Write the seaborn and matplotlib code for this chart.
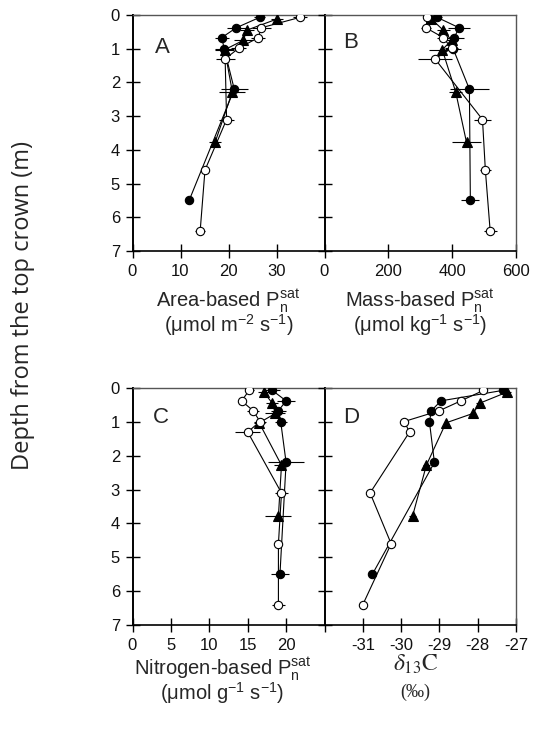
import matplotlib
matplotlib.use("Agg")
import matplotlib.pyplot as plt
import seaborn as sns

sns.set_style("ticks")
plt.rcParams['font.family'] = ['Liberation Sans', 'DejaVu Sans']
plt.rcParams['mathtext.fontset'] = 'custom'
plt.rcParams['mathtext.rm'] = 'Liberation Sans'
plt.rcParams['mathtext.it'] = 'Liberation Sans:italic'
plt.rcParams['mathtext.bf'] = 'Liberation Sans:bold'

# ---- depths (m) of each series ----
depth_filled = [0.07, 0.38, 0.67, 1.0, 2.2, 5.5]
depth_open = [0.07, 0.38, 0.67, 0.99, 1.3, 3.1, 4.6, 6.4]
depth_tri = [0.12, 0.45, 0.75, 1.03, 2.28, 3.78]

# ---- Panel A: area-based Pn sat ----
A_filled = [26.5, 21.6, 18.6, 19.1, 21.2, 11.8]
A_filled_err = [1.2, 2.0, 1.4, 2.0, 2.8, 0.8]
A_open = [34.9, 26.8, 26.2, 22.1, 19.3, 19.6, 15.1, 14.1]
A_open_err = [1.4, 2.0, 1.5, 1.5, 2.0, 1.5, 0.9, 1.0]
A_tri = [30.1, 23.8, 23.1, 19.2, 20.8, 17.2]
A_tri_err = [1.2, 1.5, 2.0, 2.0, 2.7, 1.2]

# ---- Panel B: mass-based Pn sat ----
B_filled = [353, 422, 406, 403, 454, 457]
B_filled_err = [15, 34, 30, 25, 62, 28]
B_open = [322, 318, 372, 398, 346, 495, 504, 519]
B_open_err = [10, 15, 20, 20, 52, 26, 18, 20]
B_tri = [335, 372, 398, 369, 411, 445]
B_tri_err = [15, 20, 20, 43, 20, 46]

# ---- Panel C: nitrogen-based Pn sat ----
C_filled = [18.2, 20.0, 19.0, 19.3, 20.0, 19.2]
C_filled_err = [1.0, 1.2, 1.0, 0.8, 2.3, 1.2]
C_open = [15.2, 14.2, 15.7, 16.6, 15.0, 19.4, 19.0, 19.0]
C_open_err = [0.6, 0.5, 0.8, 0.8, 1.6, 0.8, 0.4, 0.8]
C_tri = [17.1, 18.2, 18.6, 16.5, 19.4, 19.0]
C_tri_err = [0.8, 0.8, 1.3, 0.7, 1.0, 1.7]

# ---- Panel D: delta 13C ----
D_filled = [-27.34, -28.96, -29.21, -29.26, -29.13, -30.75]
D_filled_err = [0.10, 0.05, 0.05, 0.05, 0.10, 0.05]
D_open = [-27.85, -28.44, -29.0, -29.92, -29.78, -30.81, -30.26, -31.0]
D_open_err = [0.10, 0.05, 0.05, 0.05, 0.05, 0.05, 0.10, 0.10]
D_tri = [-27.23, -27.95, -28.12, -28.83, -29.34, -29.70]
D_tri_err = [0.10, 0.10, 0.05, 0.05, 0.10, 0.10]

# ---- tick labels ----
A_ticks = [0, 10, 20, 30]
B_ticks = [0, 200, 400, 600]
C_ticks = [0, 5, 10, 15, 20, 25]
C_ticklabels = ['0', '5', '10', '15', '20', '']
D_ticks = [-31, -30, -29, -28, -27]
D_ticklabels = ['-31', '-30', '-29', '-28', '-27']
depth_ticks = [0, 1, 2, 3, 4, 5, 6, 7]

fig = plt.figure(figsize=(5.37, 7.3), dpi=100)
W, H = 537.0, 730.0
left1, right1, right2 = 132.5, 324.5, 516.0
top_r1, bot_r1 = 15.0, 251.0
top_r2, bot_r2 = 388.0, 625.0

def add_ax(x0, x1, y0, y1):
    return fig.add_axes([x0 / W, 1 - y1 / H, (x1 - x0) / W, (y1 - y0) / H])

axA = add_ax(left1, right1, top_r1, bot_r1)
axB = add_ax(right1, right2, top_r1, bot_r1)
axC = add_ax(left1, right1, top_r2, bot_r2)
axD = add_ax(right1, right2, top_r2, bot_r2)

lw = 0.8
ms_c = 6.0
ms_t = 7.0

def draw(ax, fv, fe, ov, oe, tv, te):
    for vals, errs, d, mk, fc, ms in [
        (fv, fe, depth_filled, 'o', 'black', ms_c),
        (tv, te, depth_tri, '^', 'black', ms_t),
        (ov, oe, depth_open, 'o', 'white', ms_c),
    ]:
        ax.errorbar(vals, d, xerr=errs, fmt='none', ecolor='black',
                    elinewidth=lw, capsize=0, zorder=2)
        sns.lineplot(x=vals, y=d, ax=ax, sort=False, estimator=None,
                     color='black', lw=lw, marker=mk, markersize=ms,
                     markerfacecolor=fc, markeredgecolor='black',
                     markeredgewidth=0.8, zorder=3)

draw(axA, A_filled, A_filled_err, A_open, A_open_err, A_tri, A_tri_err)
draw(axB, B_filled, B_filled_err, B_open, B_open_err, B_tri, B_tri_err)
draw(axC, C_filled, C_filled_err, C_open, C_open_err, C_tri, C_tri_err)
draw(axD, D_filled, D_filled_err, D_open, D_open_err, D_tri, D_tri_err)

axA.set_xlim(0, 40)
axB.set_xlim(0, 600)
axC.set_xlim(0, 25)
axD.set_xlim(-32, -27)
axA.set_xticks(A_ticks)
axB.set_xticks(B_ticks)
axC.set_xticks(C_ticks, labels=C_ticklabels)
axD.set_xticks(D_ticks, labels=D_ticklabels)

for ax in [axA, axB, axC, axD]:
    ax.set_ylim(7, 0)
    ax.set_yticks(depth_ticks)
    ax.set_xlabel('')
    ax.set_ylabel('')
    ax.tick_params(direction='inout', length=10, width=1.0, color='black',
                   labelsize=12, pad=4, labelcolor='#111111')
    ax.spines['top'].set_color('#555555')
    ax.spines['top'].set_linewidth(1.0)
    ax.spines['bottom'].set_color('black')
    ax.spines['bottom'].set_linewidth(1.2)
    ax.spines['left'].set_color('black')
    ax.spines['left'].set_linewidth(1.4)
    ax.spines['right'].set_color('#555555')
    ax.spines['right'].set_linewidth(1.0)
    ax.set_facecolor('white')

for ax in [axA, axC]:
    ax.spines['right'].set_visible(False)
for ax in [axB, axD]:
    ax.tick_params(axis='y', labelleft=False)

# panel letters
axA.text(0.115, 0.84, 'A', transform=axA.transAxes, fontsize=16, ha='left', va='baseline')
axB.text(0.096, 0.86, 'B', transform=axB.transAxes, fontsize=16, ha='left', va='baseline')
axC.text(0.107, 0.852, 'C', transform=axC.transAxes, fontsize=16, ha='left', va='baseline')
axD.text(0.096, 0.852, 'D', transform=axD.transAxes, fontsize=16, ha='left', va='baseline')

def fx(px):
    return px / W

def fy(py):
    return 1 - py / H

cA = (left1 + right1) / 2
cB = (right1 + right2) / 2
fs_lab = 14.5
fig.text(fx(cA), fy(300), r'Area-based $\mathrm{P_n^{sat}}$', ha='center', va='center', fontsize=fs_lab)
fig.text(fx(cA), fy(325), r'(μmol m$^{\mathrm{-2}}$ s$^{\mathrm{-1}}$)', ha='center', va='center', fontsize=fs_lab)
fig.text(fx(cB), fy(300), r'Mass-based $\mathrm{P_n^{sat}}$', ha='center', va='center', fontsize=fs_lab)
fig.text(fx(cB), fy(325), r'(μmol kg$^{\mathrm{-1}}$ s$^{\mathrm{-1}}$)', ha='center', va='center', fontsize=fs_lab)

fig.text(fx(cA - 6), fy(668), r'Nitrogen-based $\mathrm{P_n^{sat}}$', ha='center', va='center', fontsize=fs_lab)
fig.text(fx(cA - 6), fy(693), r'(μmol g$^{\mathrm{-1}}$ s$^{\mathrm{-1}}$)', ha='center', va='center', fontsize=fs_lab)
fig.text(fx(cB - 5), fy(664), r'$\delta_{13}\mathrm{C}$', ha='center', va='center', fontsize=17,
         math_fontfamily='stix')
fig.text(fx(cB - 5), fy(692), '(‰)', ha='center', va='center', fontsize=13,
         family=['Liberation Serif', 'DejaVu Serif'])

fig.text(fx(23), fy(305), 'Depth from the top crown (m)', rotation=90, ha='center', va='center',
         fontsize=17, family=['Open Sans', 'DejaVu Sans'])

fig.savefig('out.png', dpi=100, facecolor='white')
